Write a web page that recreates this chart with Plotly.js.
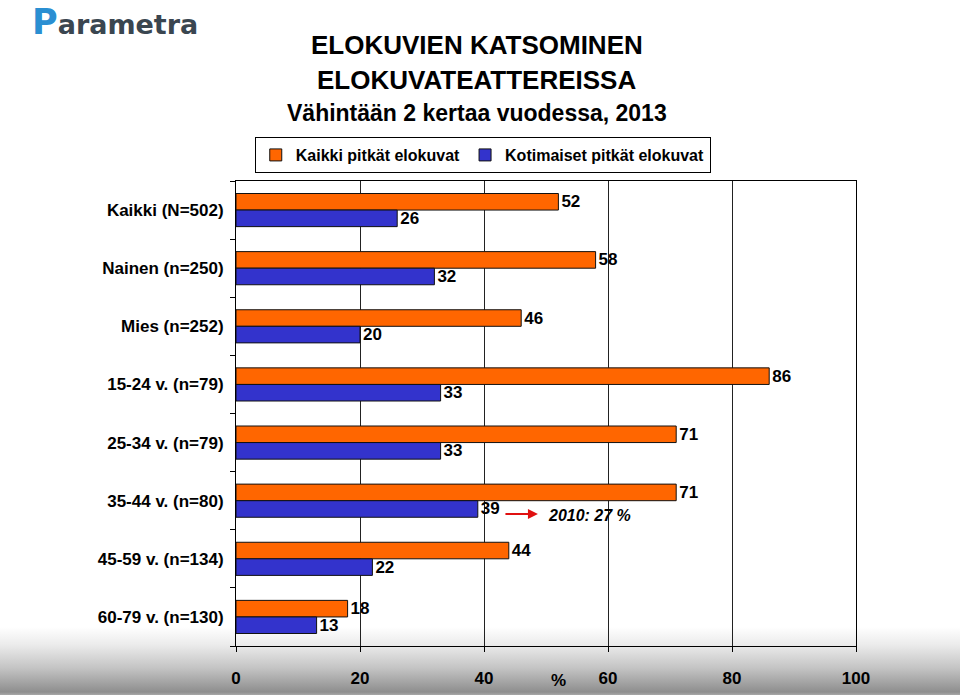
<!DOCTYPE html>
<html>
<head>
<meta charset="utf-8">
<script src="https://cdn.plot.ly/plotly-3.0.1.min.js"></script>
<style>
  body { margin: 0; }
  #movie-plot {
    width: 960px;
    height: 695px;
    background: linear-gradient(to bottom, #ffffff 0px, #ffffff 627px, #ebebeb 645px, #c4c4c4 668px, #8e8e8e 692px, #a8a8a8 695px);
  }
</style>
</head>
<body>
<div id="movie-plot"></div>
<script>
// groups, top to bottom
const groups = [
  "Kaikki (N=502)",
  "Nainen (n=250)",
  "Mies (n=252)",
  "15-24 v. (n=79)",
  "25-34 v. (n=79)",
  "35-44 v. (n=80)",
  "45-59 v. (n=134)",
  "60-79 v. (n=130)"
];
const allMovies = [52, 58, 46, 86, 71, 71, 44, 18];
const domesticMovies = [26, 32, 20, 33, 33, 39, 22, 13];
const seriesNames = ["Kaikki pitkät elokuvat", "Kotimaiset pitkät elokuvat"];
const xTicks = [0, 20, 40, 60, 80, 100];

const fontFam = "Liberation Sans, Arial, sans-serif";

let data = [
  {
    type: "bar",
    orientation: "h",
    name: seriesNames[0],
    y: groups,
    x: allMovies,
    text: allMovies.map(v => "<b>" + v + "</b>"),
    textposition: "outside",
    constraintext: "none",
    textfont: { family: fontFam, size: 17, color: "#000" },
    cliponaxis: false,
    marker: { color: "#ff6600", line: { color: "#111", width: 1 } },
    hoverinfo: "none"
  },
  {
    type: "bar",
    orientation: "h",
    name: seriesNames[1],
    y: groups,
    x: domesticMovies,
    text: domesticMovies.map(v => "<b>" + v + "</b>"),
    textposition: "outside",
    constraintext: "none",
    textfont: { family: fontFam, size: 17, color: "#000" },
    cliponaxis: false,
    marker: { color: "#3333cc", line: { color: "#111", width: 1 } },
    hoverinfo: "none"
  }
];

var layout = {
  width: 960,
  height: 695,
  margin: { l: 236, r: 104, t: 181, b: 49 },
  paper_bgcolor: "rgba(0,0,0,0)",
  plot_bgcolor: "rgba(0,0,0,0)",
  font: { family: fontFam, size: 17, color: "#000" },
  barmode: "group",
  bargap: 0.43,
  bargroupgap: 0,
  showlegend: true,
  legend: {
    orientation: "h",
    x: 0.398, xanchor: "center",
    y: 1.0946, yanchor: "top",
    bordercolor: "#000", borderwidth: 1,
    bgcolor: "#fff",
    font: { family: fontFam, size: 16, color: "#000", weight: "bold" },
    traceorder: "normal"
  },
  xaxis: {
    range: [0, 100],
    tickvals: xTicks,
    ticktext: xTicks.map(v => "<b>" + v + "</b>"),
    showgrid: true,
    gridcolor: "#222",
    gridwidth: 1,
    showline: true,
    linecolor: "#000",
    linewidth: 1,
    mirror: true,
    ticks: "outside",
    ticklen: 5,
    tickcolor: "#000",
    ticklabelstandoff: 12,
    zeroline: false,
    fixedrange: true
  },
  yaxis: {
    autorange: "reversed",
    type: "category",
    tickvals: groups,
    ticktext: groups.map(g => "<b>" + g + "</b>"),
    showline: true,
    linecolor: "#000",
    linewidth: 1,
    mirror: true,
    ticks: "outside",
    tickson: "boundaries",
    ticklen: 5,
    tickcolor: "#000",
    ticklabelstandoff: 8,
    showgrid: false,
    fixedrange: true
  },
  annotations: [
    // logo
    {
      xref: "paper", yref: "paper", x: -0.3323, y: 1.342,
      xanchor: "left", yanchor: "middle", showarrow: false,
      text: "<span style='color:#2a8fd2;font-size:35px'>P</span>arametra",
      font: { family: "DejaVu Sans, sans-serif", size: 27, color: "#3a4650", weight: "bold" }
    },
    // titles
    {
      xref: "paper", yref: "paper", x: 0.388, y: 1.2925,
      xanchor: "center", yanchor: "middle", showarrow: false,
      text: "<b>ELOKUVIEN KATSOMINEN</b>",
      font: { family: fontFam, size: 26, color: "#000" }
    },
    {
      xref: "paper", yref: "paper", x: 0.388, y: 1.217,
      xanchor: "center", yanchor: "middle", showarrow: false,
      text: "<b>ELOKUVATEATTEREISSA</b>",
      font: { family: fontFam, size: 26, color: "#000" }
    },
    {
      xref: "paper", yref: "paper", x: 0.388, y: 1.146,
      xanchor: "center", yanchor: "middle", showarrow: false,
      text: "<b>Vähintään 2 kertaa vuodessa, 2013</b>",
      font: { family: fontFam, size: 23, color: "#000" }
    },
    // 2010 comparison
    {
      xref: "x", yref: "paper", x: 48.7, y: 0.284,
      ax: -34, ay: 0, text: "",
      showarrow: true, arrowhead: 2, arrowsize: 1, arrowwidth: 2, arrowcolor: "#e01010"
    },
    {
      xref: "x", yref: "paper", x: 50, y: 0.28,
      xanchor: "left", yanchor: "middle", showarrow: false,
      text: "<b><i>2010: 27 %</i></b>",
      font: { family: fontFam, size: 16, color: "#000" }
    },
    // axis unit
    {
      xref: "x", yref: "paper", x: 52, y: -0.074,
      xanchor: "center", yanchor: "middle", showarrow: false,
      text: "<b>%</b>",
      font: { family: fontFam, size: 17, color: "#000" }
    }
  ]
};

Plotly.newPlot("movie-plot", data, layout, { displayModeBar: false, staticPlot: true });
</script>
</body>
</html>
